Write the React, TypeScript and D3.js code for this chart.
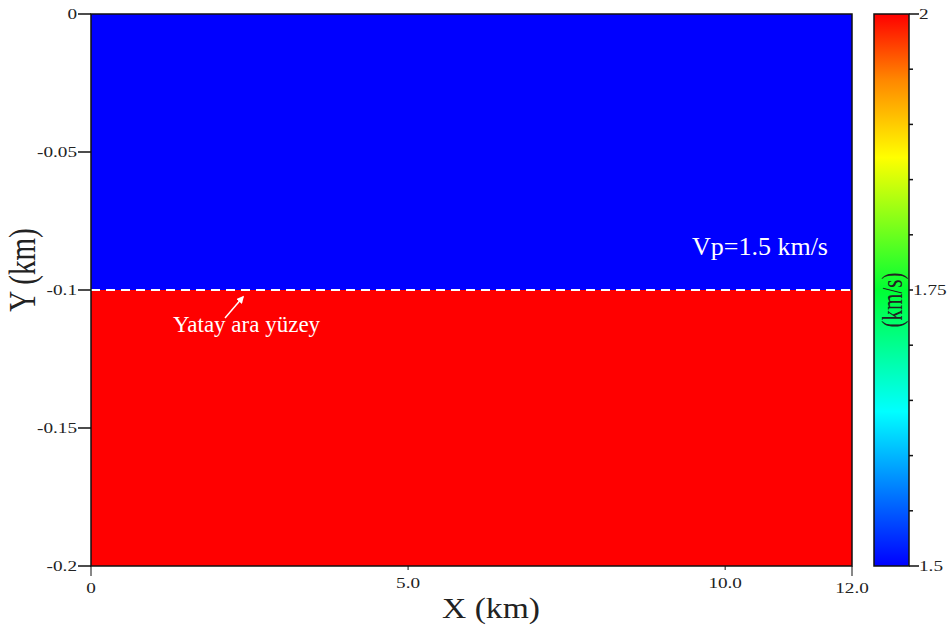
import React from "react";
import * as d3 from "d3";

const xTicks = [0, 5, 10, 12];
const xTickLabels = ["0", "5.0", "10.0", "12.0"];
const xTickLong = [true, false, false, true];
const yTicks = [0, -0.05, -0.1, -0.15, -0.2];
const yTickLabels = ["0", "-0.05", "-0.1", "-0.15", "-0.2"];
const layers = [
  { top: 0, bottom: -0.1, color: "#0000ff", vp: 1.5 },
  { top: -0.1, bottom: -0.2, color: "#ff0000", vp: 2.0 },
];
const interfaceDepth = -0.1;
const cbMajor = [2, 1.75, 1.5];
const cbMajorLabels = ["2", "1.75", "1.5"];
const cbMajorLong = [true, false, true];
const cbMinor = [1.95, 1.9, 1.85, 1.8, 1.7, 1.65, 1.6, 1.55];
const cbStops = [
  { o: 0, c: "#0000ff" },
  { o: 0.28, c: "#00ffff" },
  { o: 0.5, c: "#00ff33" },
  { o: 0.74, c: "#ffff00" },
  { o: 0.88, c: "#ff8800" },
  { o: 1, c: "#ff0000" },
];

export default function App() {
  const W = 952, H = 627;
  const L = 91, R = 852, T = 14, B = 566;
  const x = d3.scaleLinear().domain([0, 12]).range([L, R]);
  const y = d3.scaleLinear().domain([0, -0.2]).range([T, B]);
  const cbL = 874, cbR = 909;
  const cy = d3.scaleLinear().domain([1.5, 2]).range([B, T]);
  const font = "'Liberation Serif', 'Times New Roman', serif";
  const sx = 1.28;
  return (
    <svg width={W} height={H} style={{ position: "absolute", left: 0, top: 0 }} fontFamily={font}>
      <defs>
        <linearGradient id="cb" x1="0" y1="1" x2="0" y2="0">
          {cbStops.map((s, i) => (
            <stop key={i} offset={s.o} stopColor={s.c} />
          ))}
        </linearGradient>
        <marker id="arr" viewBox="0 0 10 10" refX="8" refY="5" markerWidth="5" markerHeight="5" orient="auto">
          <path d="M0,0 L10,5 L0,10 z" fill="#fff" />
        </marker>
      </defs>
      {layers.map((l, i) => (
        <rect key={i} x={L} y={y(l.top)} width={R - L} height={y(l.bottom) - y(l.top)} fill={l.color} />
      ))}
      <line x1={L} x2={R} y1={y(interfaceDepth)} y2={y(interfaceDepth)} stroke="#fff" strokeWidth={2} strokeDasharray="9,6" />
      <rect x={L} y={T} width={R - L} height={B - T} fill="none" stroke="#111" strokeWidth={1.5} />
      <text x={828} y={255} fill="#fff" fontSize={26} textAnchor="end">Vp=1.5 km/s</text>
      <text x={173} y={332} fill="#fff" fontSize={23}>Yatay ara yüzey</text>
      <line x1={225} y1={318} x2={243} y2={297} stroke="#fff" strokeWidth={1.5} markerEnd="url(#arr)" />
      {yTicks.map((t, i) => (
        <g key={i}>
          <line x1={L - 13} x2={L} y1={y(t)} y2={y(t)} stroke="#111" strokeWidth={1.5} />
          <text transform={`translate(${L - 14},${y(t) + 5}) scale(${sx},1)`} fontSize={15} textAnchor="end" fill="#222">{yTickLabels[i]}</text>
        </g>
      ))}
      {xTicks.map((t, i) => (
        <g key={i}>
          <line x1={x(t)} x2={x(t)} y1={B} y2={B + (xTickLong[i] ? 10 : 4)} stroke="#111" strokeWidth={1} />
          <text transform={`translate(${x(t)},${B + (xTickLong[i] ? 27 : 22)}) scale(${sx},1)`} fontSize={15} textAnchor="middle" fill="#222">{xTickLabels[i]}</text>
        </g>
      ))}
      <text transform="translate(491,618) scale(1.12,1)" fontSize={30} textAnchor="middle" fill="#222">X (km)</text>
      <text transform="translate(35,270) scale(1.3,1) rotate(-90)" fontSize={29} textAnchor="middle" fill="#222">Y (km)</text>
      <rect x={cbL} y={T} width={cbR - cbL} height={B - T} fill="url(#cb)" stroke="#111" strokeWidth={1.5} />
      {cbMinor.map((t, i) => (
        <line key={i} x1={cbR} x2={cbR + 4} y1={cy(t)} y2={cy(t)} stroke="#111" strokeWidth={1.5} />
      ))}
      {cbMajor.map((t, i) => (
        <g key={i}>
          <line x1={cbR} x2={cbR + (cbMajorLong[i] ? 10 : 4)} y1={cy(t)} y2={cy(t)} stroke="#111" strokeWidth={1.5} />
          <text transform={`translate(${cbR + (cbMajorLong[i] ? 10 : 4)},${cy(t) + 5}) scale(${sx},1)`} fontSize={15} fill="#222">{cbMajorLabels[i]}</text>
        </g>
      ))}
      <text transform="translate(902,300) scale(1.45,1) rotate(-90)" fontSize={21} textAnchor="middle" fill="#222">(km/s)</text>
    </svg>
  );
}
